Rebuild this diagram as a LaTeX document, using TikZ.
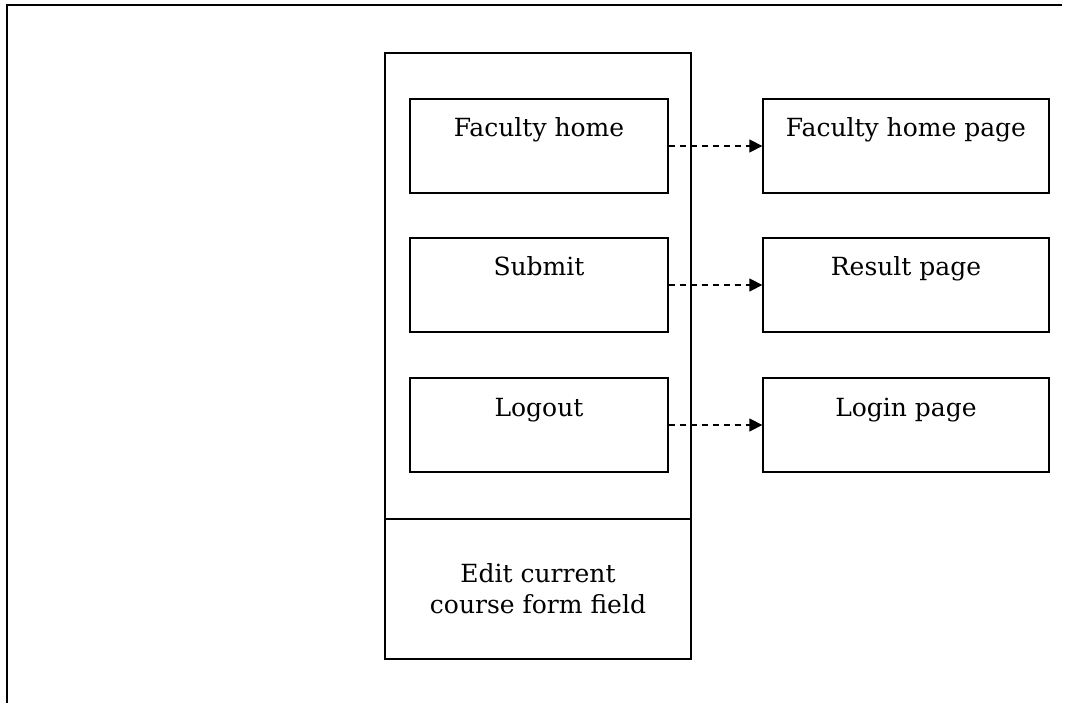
\documentclass[tikz,border=0pt]{standalone}
\usepackage{fontspec}
\setmainfont{DejaVu Serif}
\usetikzlibrary{arrows.meta}

\begin{document}
\begin{tikzpicture}[x=1pt, y=-1pt]
    \tikzstyle{panel}=[
        draw = black,
        line width = 1.3pt,
        rectangle,
        inner sep = 0pt,
        font = \fontsize{25}{31}\selectfont
    ]
    \tikzstyle{button}=[
        panel,
        minimum width = 258pt,
        text height = 38pt,
        text depth = 56pt
    ]
    \tikzstyle{page}=[
        panel,
        minimum width = 286pt,
        text height = 38pt,
        text depth = 56pt
    ]
    \tikzstyle{link}=[
        -{Triangle[length=13pt, width=13pt]},
        line width = 1.3pt,
        dash pattern = on 6pt off 5pt
    ]

    \useasboundingbox (0, 0) rectangle (1066, 703);
    % frame: only top and left edge
    \draw[line width=1.6pt] (7, 703) -- (7, 5) -- (1062, 5);

	\node[panel, minimum width=306pt, minimum height=466pt] (menu) at (538, 286) {};
	\node[panel, minimum width=306pt, minimum height=140pt, align=center] (form) at (538, 589)
	    {Edit current\\course form field};

	\node[button] (home)   at (539, 146) {Faculty home};
	\node[button] (submit) at (539, 285) {Submit};
	\node[button] (logout) at (539, 425) {Logout};

	\node[page] (homepage)   at (906, 146) {Faculty home page};
	\node[page] (resultpage) at (906, 285) {Result page};
	\node[page] (loginpage)  at (906, 425) {Login page};

	\path[link] (home) edge (homepage);
	\path[link] (submit) edge (resultpage);
	\path[link] (logout) edge (loginpage);

\end{tikzpicture}
\end{document}
